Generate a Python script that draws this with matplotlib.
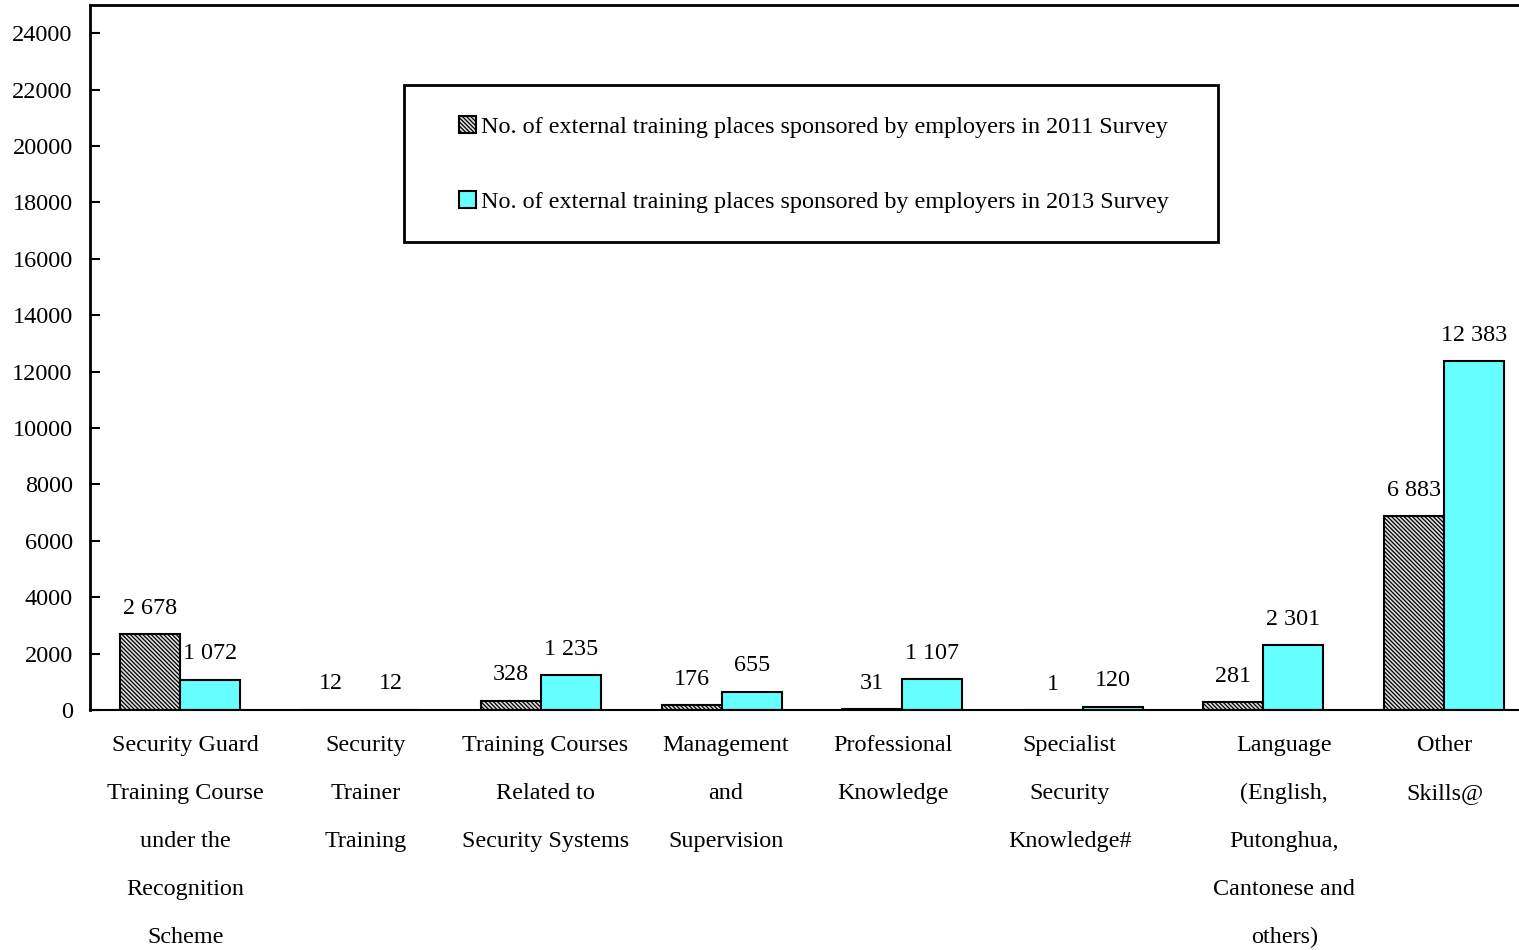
import matplotlib
matplotlib.use("Agg")
import matplotlib.pyplot as plt
from matplotlib.patches import Patch, Rectangle
import numpy as np

plt.rcParams['font.family'] = ['Liberation Serif', 'DejaVu Serif']
plt.rcParams['hatch.linewidth'] = 0.9

categories = [
    "Security Guard\nTraining Course\nunder the\nRecognition\nScheme",
    "Security\nTrainer\nTraining",
    "Training Courses\nRelated to\nSecurity Systems",
    "Management\nand\nSupervision",
    "Professional\nKnowledge",
    "Specialist\nSecurity\nKnowledge#",
    "Language\n(English,\nPutonghua,\nCantonese and\nothers)",
    "Other\nSkills@",
]
places_2011 = [2678, 12, 328, 176, 31, 1, 281, 6883]
places_2013 = [1072, 12, 1235, 655, 1107, 120, 2301, 12383]
series_labels = [
    "No. of external training places sponsored by employers in 2011 Survey",
    "No. of external training places sponsored by employers in 2013 Survey",
]
yticks = list(range(0, 24001, 2000))

# horizontal nudges (in pixels) for the category captions
label_nudge = [5, 5, 4, 4, -9, -13, 21, 1]

FS = 17.4
HATCH = '\\' * 8

def fmt(v):
    return f"{v:,}".replace(",", " ")

W, H = 1519, 950
fig = plt.figure(figsize=(W / 100, H / 100), dpi=100)
ax = fig.add_axes([90 / W, 240 / H, 1444 / W, 705 / H])

def ax_frac(px, py):
    # convert figure pixel position (from top-left) to axes fraction
    return (px - 90) / 1444, 1 - (py - 5) / 705

x = np.arange(len(categories)) + 0.5
w = 1 / 3
b1 = ax.bar(x - w / 2, places_2011, width=w, facecolor='#dcdcdc', edgecolor='black',
            hatch=HATCH, linewidth=1.5, zorder=2)
b2 = ax.bar(x + w / 2, places_2013, width=w, facecolor='#66ffff', edgecolor='black',
            linewidth=1.5, zorder=2)

for bars, vals in ((b1, places_2011), (b2, places_2013)):
    for r, v in zip(bars, vals):
        ax.annotate(fmt(v), (r.get_x() + r.get_width() / 2, v), xytext=(0, 11),
                    textcoords='offset points', ha='center', va='bottom', fontsize=FS)

ax.set_xlim(0, len(categories))
ax.set_ylim(0, 25000)
ax.set_yticks(yticks)
ax.set_yticklabels([str(t) for t in yticks], fontsize=17.5)
ax.tick_params(axis='y', direction='in', length=7, width=1.5, pad=12.5)
ax.set_xticks([])

for s in ('left', 'top'):
    ax.spines[s].set_linewidth(2)
ax.spines['bottom'].set_linewidth(1.5)
ax.spines['right'].set_visible(False)

for xi, lab, dx in zip(x, categories, label_nudge):
    ax.annotate(lab, (xi, 0), xytext=(dx * 0.72, -18), textcoords='offset points',
                ha='center', va='top', fontsize=FS, linespacing=2.68,
                annotation_clip=False)

# legend box
x0, y0 = ax_frac(404, 242)
x1, y1 = ax_frac(1218, 85)
ax.add_patch(Rectangle((x0, y0), x1 - x0, y1 - y0, transform=ax.transAxes,
                       facecolor='white', edgecolor='black', linewidth=2, zorder=4))

handles = [
    Patch(facecolor='#dcdcdc', edgecolor='black', hatch=HATCH, linewidth=1.5),
    Patch(facecolor='#66ffff', edgecolor='black', linewidth=1.5),
]
leg = ax.legend(handles, series_labels, loc='upper left',
                bbox_to_anchor=ax_frac(459, 116), fontsize=FS,
                frameon=False, handlelength=0.7, handleheight=0.7,
                handletextpad=0.2, labelspacing=2.2, borderpad=0,
                borderaxespad=0)
leg.set_zorder(5)

fig.savefig("out.png", dpi=100)
